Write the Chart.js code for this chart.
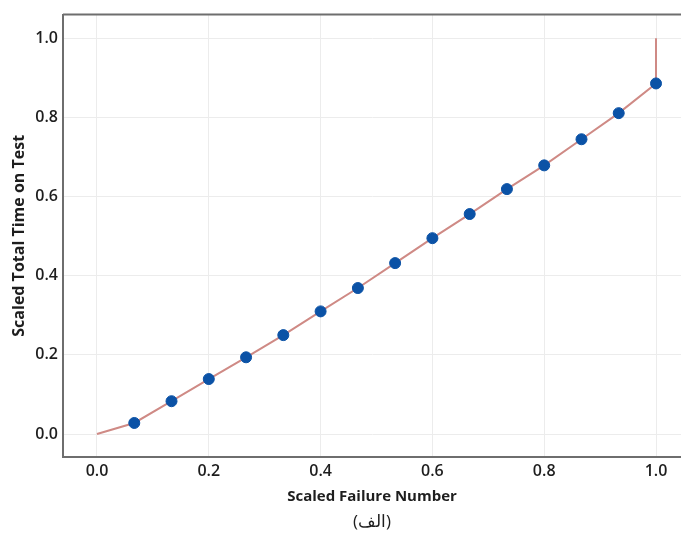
<!DOCTYPE html>
<html>
<head>
<meta charset="utf-8">
<script src="https://cdn.jsdelivr.net/npm/chart.js@4"></script>
<style>
  html, body { margin: 0; padding: 0; background: #fff; }
  #wrap { width: 681px; height: 537px; }
</style>
</head>
<body>
<div id="wrap"><canvas id="ttt" width="681" height="537"></canvas></div>
<script>
// Scaled TTT plot data
const failureX = [0.0667, 0.1333, 0.2, 0.2667, 0.3333, 0.4, 0.4667, 0.5333, 0.6, 0.6667, 0.7333, 0.8, 0.8667, 0.9333, 1.0];
const totalTime = [0.028, 0.083, 0.139, 0.194, 0.250, 0.310, 0.369, 0.432, 0.495, 0.556, 0.619, 0.679, 0.745, 0.811, 0.886];
const xTicks = [0.0, 0.2, 0.4, 0.6, 0.8, 1.0];
const yTicks = [0.0, 0.2, 0.4, 0.6, 0.8, 1.0];
const caption = "(الف)";

// curve starts at origin and ends with the vertical step up to 1.0
const lineX = [0, ...failureX, 1.0];
const lineY = [0, ...totalTime, 1.0];

const axisColor = "#6e6e6e";
const gridColor = "#ececec";
const textColor = "#1e1e1e";
const fontFamily = "'Open Sans', 'Noto Sans', sans-serif";

// top frame line + caption under the axis title (centred on the plot area)
const frameAndCaption = {
  id: "frameAndCaption",
  afterDraw(chart) {
    const { ctx, chartArea } = chart;
    ctx.save();
    ctx.strokeStyle = axisColor;
    ctx.lineWidth = 2;
    ctx.beginPath();
    ctx.moveTo(chartArea.left, chartArea.top);
    ctx.lineTo(chartArea.right, chartArea.top);
    ctx.stroke();

    ctx.fillStyle = textColor;
    ctx.font = `17px ${fontFamily}`;
    ctx.textAlign = "center";
    ctx.textBaseline = "middle";
    ctx.fillText(caption, (chartArea.left + chartArea.right) / 2, 522);
    ctx.restore();
  },
};

new Chart(document.getElementById("ttt"), {
  type: "scatter",
  data: {
    datasets: [
      {
        type: "line",
        data: lineX.map((x, i) => ({ x, y: lineY[i] })),
        borderColor: "#cf8a85",
        borderWidth: 2,
        pointRadius: 0,
        tension: 0,
        order: 2,
      },
      {
        data: failureX.map((x, i) => ({ x, y: totalTime[i] })),
        backgroundColor: "#0b52a6",
        borderColor: "#0b52a6",
        pointRadius: 5.5,
        order: 1,
      },
    ],
  },
  plugins: [frameAndCaption],
  options: {
    responsive: false,
    animation: false,
    layout: { autoPadding: false, padding: { top: 14, right: 0, left: 6, bottom: 30 } },
    plugins: {
      legend: { display: false },
      tooltip: { enabled: false },
    },
    scales: {
      x: {
        type: "linear",
        min: -0.0608,
        max: 1.0447,
        afterBuildTicks: (s) => { s.ticks = xTicks.map((v) => ({ value: v })); },
        afterFit: (s) => { s.height = 50; },
        ticks: {
          color: textColor,
          font: { family: fontFamily, size: 16, weight: "600" },
          padding: 5,
          callback: (v) => v.toFixed(1),
        },
        grid: { color: gridColor, drawTicks: false },
        border: { color: axisColor, width: 2 },
        title: {
          display: true,
          text: "Scaled Failure Number",
          color: textColor,
          font: { family: fontFamily, size: 15, weight: "bold" },
          padding: { top: 2, bottom: 1 },
        },
      },
      y: {
        type: "linear",
        min: -0.058,
        max: 1.06,
        afterBuildTicks: (s) => { s.ticks = yTicks.map((v) => ({ value: v })); },
        afterFit: (s) => { s.width = 57; },
        ticks: {
          color: textColor,
          font: { family: fontFamily, size: 16, weight: "600" },
          padding: 5,
          callback: (v) => v.toFixed(1),
        },
        grid: { color: gridColor, drawTicks: false },
        border: { color: axisColor, width: 2 },
        title: {
          display: true,
          text: "Scaled Total Time on Test",
          color: textColor,
          font: { family: fontFamily, size: 16, weight: "bold" },
          padding: { top: 4, bottom: 0 },
        },
      },
    },
  },
});
</script>
</body>
</html>
